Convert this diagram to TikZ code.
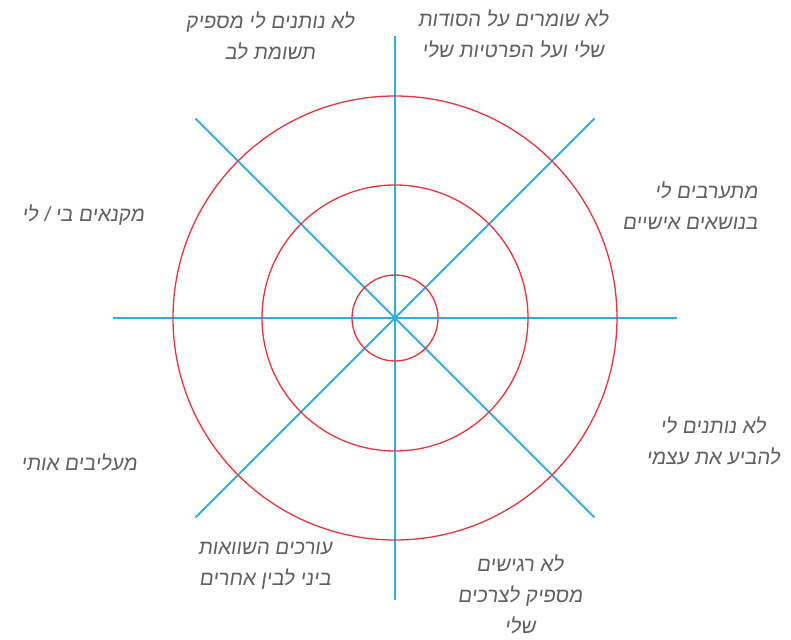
\documentclass[tikz,border=0pt]{standalone}
\usepackage{fontspec}
\usepackage{tikz}
\usetikzlibrary{calc}
\TeXXeTstate=1
\newfontfamily\hebfont[Script=Hebrew,FakeSlant=0.15]{Liberation Sans}
\definecolor{ringRed}{RGB}{230,52,64}
\definecolor{spokeBlue}{RGB}{52,172,226}
\definecolor{textGray}{RGB}{96,96,96}
\newcommand{\heb}[1]{\beginR #1\endR}

\begin{document}
\begin{tikzpicture}[
    x=1pt, y=1pt,
    ring/.style={draw=ringRed, line width=1.3pt},
    spoke/.style={draw=spokeBlue, line width=2pt},
    label/.style={font=\hebfont\fontsize{20.5}{31}\selectfont, text=textGray, align=center, inner sep=0pt}
]
    \useasboundingbox (-395,-321) rectangle (396,318);

    % Centre
    \coordinate (c) at (0,0);

    % Spokes
    \foreach \a in {0,45,...,315}{
        \path (c) ++(\a:282) coordinate (s\a);
        \draw[spoke] (c) -- (s\a);
    }

    % Rings
    \draw[ring] (c) circle[radius=222pt];
    \draw[ring] (c) circle[radius=133pt];
    \draw[ring] (c) circle[radius=43pt];

    % Labels
    \node[label] (topleft) at (-125,282) {\heb{לא נותנים לי מספיק}\\\heb{תשומת לב}};
    \node[label] (topright) at (118,284) {\heb{לא שומרים על הסודות}\\\heb{שלי ועל הפרטיות שלי}};
    \node[label, align=right] (right) at (295,112) {\heb{מתערבים לי}\\\heb{בנושאים אישיים}};
    \node[label] (left) at (-312,103) {\heb{מקנאים בי / לי}};
    \node[label] (lowright) at (318,-123) {\heb{לא נותנים לי}\\\heb{להביע את עצמי}};
    \node[label] (lowleft) at (-316,-144) {\heb{מעליבים אותי}};
    \node[label] (botleft) at (-130,-248) {\heb{עורכים השוואות}\\\heb{ביני לבין אחרים}};
    \node[label] (botright) at (125,-276) {\heb{לא רגישים}\\\heb{מספיק לצרכים}\\\heb{שלי}};
\end{tikzpicture}
\end{document}
